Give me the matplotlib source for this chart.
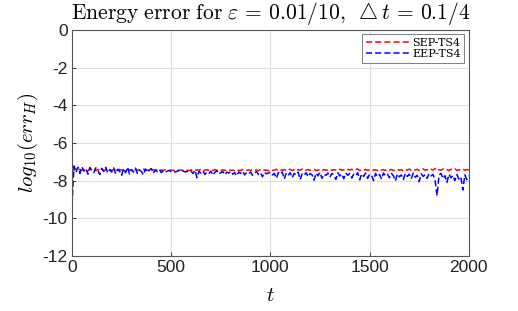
import numpy as np
import matplotlib
matplotlib.use("Agg")
import matplotlib.pyplot as plt

plt.rcParams['mathtext.fontset'] = 'cm'
plt.rcParams['font.family'] = ['Liberation Sans', 'DejaVu Sans']

t = list(range(0, 2001, 10))

sep_ts4 = [-7.32, -7.45, -7.38, -7.48, -7.40, -7.46, -7.37, -7.44, -7.49, -7.40,
           -7.43, -7.38, -7.47, -7.41, -7.45, -7.39, -7.48, -7.42, -7.44, -7.40,
           -7.46, -7.41, -7.44, -7.48, -7.40, -7.45, -7.42, -7.47, -7.39, -7.44,
           -7.42, -7.48, -7.41, -7.45, -7.43, -7.47, -7.40, -7.46, -7.44, -7.42,
           -7.47, -7.43, -7.45, -7.41, -7.48, -7.44, -7.46, -7.42, -7.45, -7.47,
           -7.44, -7.46, -7.43, -7.47, -7.45, -7.44, -7.46, -7.43, -7.45, -7.47,
           -7.44, -7.41, -7.47, -7.43, -7.45, -7.40, -7.48, -7.44, -7.42, -7.46,
           -7.43, -7.47, -7.41, -7.45, -7.44, -7.48, -7.42, -7.46, -7.43, -7.41,
           -7.46, -7.44, -7.48, -7.42, -7.45, -7.47, -7.41, -7.44, -7.46, -7.43,
           -7.47, -7.42, -7.45, -7.44, -7.48, -7.41, -7.46, -7.43, -7.45, -7.47,
           -7.42, -7.46, -7.44, -7.40, -7.48, -7.43, -7.45, -7.41, -7.47, -7.44,
           -7.40, -7.46, -7.43, -7.48, -7.42, -7.45, -7.39, -7.47, -7.44, -7.41,
           -7.46, -7.43, -7.40, -7.47, -7.44, -7.42, -7.48, -7.41, -7.45, -7.43,
           -7.39, -7.46, -7.42, -7.44, -7.48, -7.40, -7.45, -7.43, -7.47, -7.41,
           -7.44, -7.40, -7.46, -7.42, -7.38, -7.47, -7.43, -7.45, -7.41, -7.46,
           -7.42, -7.39, -7.45, -7.43, -7.47, -7.40, -7.44, -7.42, -7.46, -7.39,
           -7.44, -7.41, -7.47, -7.43, -7.40, -7.45, -7.42, -7.48, -7.41, -7.44,
           -7.39, -7.46, -7.42, -7.44, -7.40, -7.47, -7.43, -7.38, -7.45, -7.42,
           -7.46, -7.40, -7.44, -7.36, -7.47, -7.42, -7.45, -7.39, -7.44, -7.41,
           -7.47, -7.40, -7.43, -7.38, -7.46, -7.42, -7.44, -7.40, -7.45, -7.42,
           -7.43]

eep_ts4 = [-9.30, -7.22, -7.55, -7.30, -7.62, -7.28, -7.50, -7.35, -7.66, -7.30,
           -7.48, -7.58, -7.32, -7.45, -7.68, -7.35, -7.52, -7.30, -7.60, -7.42,
           -7.55, -7.33, -7.64, -7.40, -7.50, -7.72, -7.36, -7.58, -7.30, -7.65,
           -7.42, -7.55, -7.34, -7.62, -7.45, -7.52, -7.70, -7.38, -7.56, -7.44,
           -7.36, -7.60, -7.45, -7.52, -7.40, -7.58, -7.48, -7.55, -7.50, -7.46,
           -7.52, -7.48, -7.55, -7.50, -7.47, -7.53, -7.49, -7.54, -7.51, -7.56,
           -7.50, -7.62, -7.45, -7.85, -7.52, -7.60, -7.48, -7.68, -7.55, -7.62,
           -7.50, -7.72, -7.56, -7.48, -7.65, -7.58, -7.52, -7.70, -7.55, -7.60,
           -7.52, -7.66, -7.58, -7.75, -7.54, -7.62, -7.50, -7.70, -7.58, -7.64,
           -7.55, -7.72, -7.60, -7.52, -7.68, -7.58, -7.80, -7.56, -7.64, -7.60,
           -7.55, -7.70, -7.62, -7.88, -7.58, -7.66, -7.54, -7.92, -7.60, -7.72,
           -7.58, -7.85, -7.62, -7.70, -7.55, -7.95, -7.64, -7.72, -7.58, -7.80,
           -7.62, -7.70, -7.98, -7.60, -7.75, -7.56, -7.88, -7.66, -7.72, -7.60,
           -7.82, -7.62, -7.70, -7.94, -7.58, -7.76, -7.65, -7.90, -7.60, -7.72,
           -7.62, -7.86, -7.66, -7.74, -7.58, -7.96, -7.64, -7.78, -7.60, -7.88,
           -7.66, -7.72, -8.00, -7.62, -7.80, -7.68, -7.92, -7.60, -7.76, -7.66,
           -7.85, -7.62, -7.74, -8.02, -7.64, -7.80, -7.70, -7.95, -7.62, -7.78,
           -7.66, -7.90, -7.60, -7.82, -7.72, -8.05, -7.64, -7.78, -7.68, -7.88,
           -7.62, -7.75, -7.68, -7.98, -8.80, -7.70, -7.62, -7.90, -7.74, -8.10,
           -7.66, -7.85, -7.72, -8.00, -7.68, -7.92, -7.80, -8.50, -7.70, -7.95,
           -7.75]

fig = plt.figure(figsize=(5.18, 3.11), dpi=100)
ax = fig.add_axes([0.139, 0.177, 0.766, 0.727])

ax.plot(t, sep_ts4, color='red', linestyle='--', linewidth=1.1, dashes=(4, 2), label='SEP-TS4')
ax.plot(t, eep_ts4, color='blue', linestyle='--', linewidth=1.1, dashes=(4, 2), label='EEP-TS4')

ax.set_xlim(0, 2000)
ax.set_ylim(-12, 0)
ax.set_xticks([0, 500, 1000, 1500, 2000])
ax.set_yticks([-12, -10, -8, -6, -4, -2, 0])
ax.set_yticklabels(['-12', '-10', '-8', '-6', '-4', '-2', '0'])
ax.grid(True, color='#e0e0e0', linewidth=0.8)
ax.set_axisbelow(True)
ax.tick_params(direction='in', length=3, labelsize=12.5, colors='#222222', width=0.6, pad=3)
for s in ax.spines.values():
    s.set_color('#555555')
    s.set_linewidth(0.8)

ax.set_title(r'$\mathrm{Energy\ error\ for\ }\varepsilon\,=\,0.01/10,\ \bigtriangleup t\,=\,0.1/4$',
             fontsize=15.5, pad=8)
ax.set_xlabel(r'$t$', fontsize=15, labelpad=8)
ax.set_ylabel(r'$log_{10}(err_H)$', fontsize=15, labelpad=2)

leg = ax.legend(loc='upper right', frameon=True, fancybox=False,
                borderpad=0.3, handlelength=4.0, handletextpad=0.2,
                labelspacing=0.15, borderaxespad=0.4,
                prop={'family': 'DejaVu Serif', 'size': 8})
leg.get_frame().set_edgecolor('#444444')
leg.get_frame().set_linewidth(0.6)

fig.savefig('out.png', dpi=100)
